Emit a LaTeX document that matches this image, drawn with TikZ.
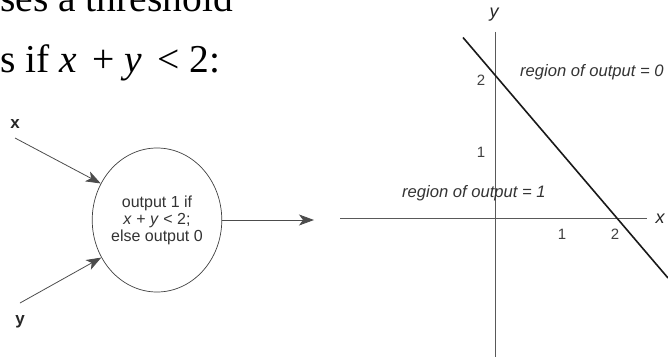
\documentclass[tikz,border=0pt]{standalone}
\usepackage{fontspec}
\setmainfont{Liberation Serif}
\setsansfont{Liberation Sans}
\usetikzlibrary{arrows.meta,shapes.geometric}

\begin{document}
\begin{tikzpicture}[x=1pt,y=-1pt,
  heading/.style={anchor=base west, inner sep=0pt, font=\fontsize{39.5}{42}\selectfont},
  unitbox/.style={draw=black!75, line width=0.7pt, ellipse, minimum width=123pt, minimum height=144pt,
    inner sep=0pt, align=center, text=black!80, font=\sffamily\fontsize{16}{17}\selectfont},
  inlabel/.style={font=\sffamily\bfseries\fontsize{17}{17}\selectfont, text=black!85},
  feed/.style={draw=black!70, line width=0.8pt, -{Stealth[length=15pt,width=11pt,inset=4pt]}},
  axisline/.style={draw=black!65, line width=0.8pt},
  boundary/.style={draw=black!90, line width=1.6pt},
  axislabel/.style={font=\sffamily\itshape\fontsize{18}{18}\selectfont, text=black!85},
  ticklabel/.style={font=\sffamily\fontsize{15}{15}\selectfont, text=black!75},
  regionlabel/.style={font=\sffamily\itshape\fontsize{16.6}{17}\selectfont, text=black!80, inner sep=1pt}]
\useasboundingbox (0,0) rectangle (668,358);

% heading lines, cut at the top edge
\node[heading] (h1) at (0,12) {ses a threshold};
\node[heading] (h2) at (0,73) {s if \textit{x}\hspace{0.15em} + \textit{y}\hspace{0.12em} < 2:};

% threshold unit
\node[unitbox] (unit) at (157,220) {output 1 if\\ \textit{x} + \textit{y} < 2;\\ else output 0};

\node[inlabel] (xin) at (15,124) {x};
\node[inlabel] (yin) at (20,322) {y};
\coordinate (xstart) at (15,138);
\coordinate (ystart) at (20,303);
\coordinate (out) at (314,220);

\draw[feed] (xstart) -- (unit.147);
\draw[feed] (ystart) -- (unit.214);
\draw[feed] (unit.east) -- (out);

% input plane
\coordinate (xl) at (340,218);
\coordinate (xr) at (647,218);
\coordinate (yt) at (495,32);
\coordinate (yb) at (495,357);
\draw[axisline] (xl) -- (xr);
\draw[axisline] (yt) -- (yb);
\node[axislabel] (xaxis) at (660,219) {x};
\node[axislabel] (yaxis) at (494,15) {y};

\node[ticklabel] (y2) at (481,80) {2};
\node[ticklabel] (y1) at (481,152) {1};
\node[ticklabel] (x1) at (562,234) {1};
\node[ticklabel] (x2) at (615,234) {2};

% decision boundary x + y = 2
\coordinate (bstart) at (463,37.5);
\coordinate (bend) at (668,278);
\draw[boundary] (bstart) -- (bend);

\node[regionlabel, anchor=west] (r0) at (519,72) {region of output = 0};
\node[regionlabel, anchor=west] (r1) at (401,193) {region of output = 1};
\end{tikzpicture}
\end{document}
